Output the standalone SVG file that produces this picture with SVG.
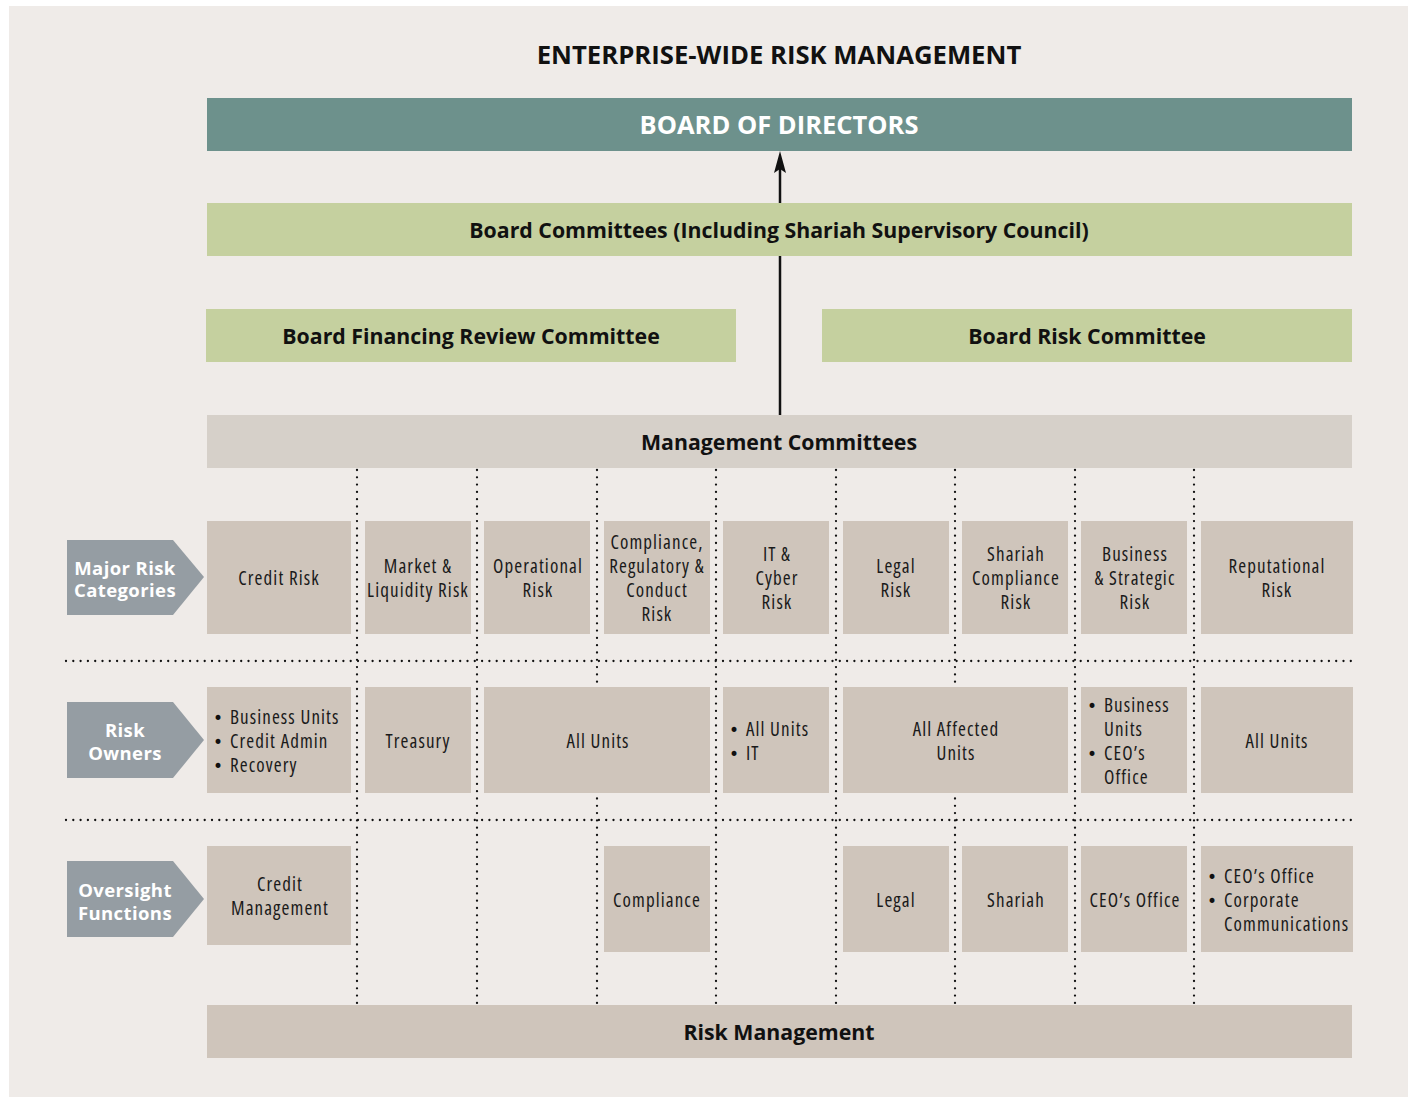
<svg xmlns="http://www.w3.org/2000/svg" width="1415" height="1097" viewBox="0 0 1415 1097">
<style>
.b{font-family:"Open Sans","Liberation Sans",sans-serif;font-weight:700;fill:#111;text-anchor:middle}
.w{fill:#fff}
.g{font-size:18.5px;letter-spacing:0.4px}
.t{font-family:"Open Sans","Liberation Sans",sans-serif;font-weight:400;font-stretch:condensed;font-size:19px;letter-spacing:1.1px;fill:#1a1a1a;text-anchor:middle}
.bu{font-family:"DejaVu Sans",sans-serif;font-size:17px;fill:#111;text-anchor:start}
.l{text-anchor:start}
.box{fill:#cfc5bb}
.grn{fill:#c5d09f}
.tag{fill:#959da3}
.dot{stroke:#111;stroke-width:2.3;stroke-linecap:round;stroke-dasharray:0 7.3;fill:none}
</style>
<rect x="0" y="0" width="1415" height="1097" fill="#fff"/>
<rect x="9" y="6" width="1399" height="1091" fill="#efebe8"/>
<text x="779" y="64" class="b" font-size="25.7">ENTERPRISE-WIDE RISK MANAGEMENT</text>

<g id="connectors">
<line x1="780" y1="415" x2="780" y2="160" stroke="#111" stroke-width="2.5"/>
<path d="M780,151 L774,173 L780,169 L786,173 Z" fill="#111"/>
<g class="dot">
<line x1="357" y1="470" x2="357" y2="1004"/>
<line x1="477" y1="470" x2="477" y2="1004"/>
<line x1="597" y1="470" x2="597" y2="1004"/>
<line x1="716" y1="470" x2="716" y2="1004"/>
<line x1="836" y1="470" x2="836" y2="1004"/>
<line x1="955" y1="470" x2="955" y2="1004"/>
<line x1="1075" y1="470" x2="1075" y2="1004"/>
<line x1="1194" y1="470" x2="1194" y2="1004"/>
<line x1="66" y1="661" x2="1352" y2="661"/>
<line x1="66" y1="820" x2="1352" y2="820"/>
</g>
</g>

<g id="board"><rect x="207" y="98" width="1145" height="53" fill="#6d918c"/><text x="779" y="134" class="b w" font-size="25.5">BOARD OF DIRECTORS</text></g>
<g id="board-committees"><rect x="207" y="203" width="1145" height="53" class="grn"/><text x="779" y="238" class="b" font-size="21.3">Board Committees (Including Shariah Supervisory Council)</text></g>
<g id="bfrc"><rect x="206" y="309" width="530" height="53" class="grn"/><text x="471" y="344" class="b" font-size="21.3">Board Financing Review Committee</text></g>
<g id="brc"><rect x="822" y="309" width="530" height="53" class="grn"/><text x="1087" y="344" class="b" font-size="21.3">Board Risk Committee</text></g>
<g id="mgmt"><rect x="207" y="415" width="1145" height="53" fill="#d6d0c9"/><text x="779" y="450" class="b" font-size="21.3">Management Committees</text></g>
<g id="riskmgmt"><rect x="207" y="1005" width="1145" height="53" class="box"/><text x="779" y="1040" class="b" font-size="21.3">Risk Management</text></g>

<g id="tag-major"><path d="M67,540 H173 L204,577 L173,615 H67 Z" class="tag"/><text x="125" y="574.5" class="b w g">Major Risk</text><text x="125" y="597" class="b w g">Categories</text></g>
<g id="tag-owners"><path d="M67,702 H173 L204,740 L173,778 H67 Z" class="tag"/><text x="125" y="737" class="b w g">Risk</text><text x="125" y="759.5" class="b w g">Owners</text></g>
<g id="tag-oversight"><path d="M67,861 H173 L204,899 L173,937 H67 Z" class="tag"/><text x="125" y="897" class="b w g">Oversight</text><text x="125" y="919.5" class="b w g">Functions</text></g>

<g id="r1-credit"><rect x="207" y="521" width="144" height="113" class="box"/><text x="279" y="585" class="t">Credit Risk</text></g>
<g id="r1-market"><rect x="365" y="521" width="106" height="113" class="box"/><text x="418" y="573" class="t">Market &amp;</text><text x="418" y="597" class="t">Liquidity Risk</text></g>
<g id="r1-oper"><rect x="484" y="521" width="106" height="113" class="box"/><text x="538" y="573" class="t">Operational</text><text x="538" y="597" class="t">Risk</text></g>
<g id="r1-comp"><rect x="604" y="521" width="106" height="113" class="box"/><text x="657" y="549" class="t">Compliance,</text><text x="657" y="573" class="t">Regulatory &amp;</text><text x="657" y="597" class="t">Conduct</text><text x="657" y="621" class="t">Risk</text></g>
<g id="r1-it"><rect x="723" y="521" width="106" height="113" class="box"/><text x="777" y="561" class="t">IT &amp;</text><text x="777" y="585" class="t">Cyber</text><text x="777" y="609" class="t">Risk</text></g>
<g id="r1-legal"><rect x="843" y="521" width="106" height="113" class="box"/><text x="896" y="573" class="t">Legal</text><text x="896" y="597" class="t">Risk</text></g>
<g id="r1-shariah"><rect x="962" y="521" width="106" height="113" class="box"/><text x="1016" y="561" class="t">Shariah</text><text x="1016" y="585" class="t">Compliance</text><text x="1016" y="609" class="t">Risk</text></g>
<g id="r1-business"><rect x="1081" y="521" width="106" height="113" class="box"/><text x="1135" y="561" class="t">Business</text><text x="1135" y="585" class="t">&amp; Strategic</text><text x="1135" y="609" class="t">Risk</text></g>
<g id="r1-rep"><rect x="1201" y="521" width="152" height="113" class="box"/><text x="1277" y="573" class="t">Reputational</text><text x="1277" y="597" class="t">Risk</text></g>

<g id="r2-credit"><rect x="207" y="687" width="144" height="106" class="box"/><text x="213" y="724" class="bu">•</text><text x="230" y="724" class="t l">Business Units</text><text x="213" y="748" class="bu">•</text><text x="230" y="748" class="t l">Credit Admin</text><text x="213" y="772" class="bu">•</text><text x="230" y="772" class="t l">Recovery</text></g>
<g id="r2-treasury"><rect x="365" y="687" width="106" height="106" class="box"/><text x="418" y="748" class="t">Treasury</text></g>
<g id="r2-all"><rect x="484" y="687" width="226" height="106" class="box"/><text x="598" y="748" class="t">All Units</text></g>
<g id="r2-it"><rect x="723" y="687" width="106" height="106" class="box"/><text x="729" y="736" class="bu">•</text><text x="746" y="736" class="t l">All Units</text><text x="729" y="760" class="bu">•</text><text x="746" y="760" class="t l">IT</text></g>
<g id="r2-affected"><rect x="843" y="687" width="225" height="106" class="box"/><text x="956" y="736" class="t">All Affected</text><text x="956" y="760" class="t">Units</text></g>
<g id="r2-business"><rect x="1081" y="687" width="106" height="106" class="box"/><text x="1087" y="712" class="bu">•</text><text x="1104" y="712" class="t l">Business</text><text x="1104" y="736" class="t l">Units</text><text x="1087" y="760" class="bu">•</text><text x="1104" y="760" class="t l">CEO’s</text><text x="1104" y="784" class="t l">Office</text></g>
<g id="r2-allunits"><rect x="1201" y="687" width="152" height="106" class="box"/><text x="1277" y="748" class="t">All Units</text></g>

<g id="r3-credit"><rect x="207" y="846" width="144" height="99" class="box"/><text x="280" y="891" class="t">Credit</text><text x="280" y="915" class="t">Management</text></g>
<g id="r3-comp"><rect x="604" y="846" width="106" height="106" class="box"/><text x="657" y="907" class="t">Compliance</text></g>
<g id="r3-legal"><rect x="843" y="846" width="106" height="106" class="box"/><text x="896" y="907" class="t">Legal</text></g>
<g id="r3-shariah"><rect x="962" y="846" width="106" height="106" class="box"/><text x="1016" y="907" class="t">Shariah</text></g>
<g id="r3-ceo"><rect x="1081" y="846" width="106" height="106" class="box"/><text x="1135" y="907" class="t">CEO’s Office</text></g>
<g id="r3-rep"><rect x="1201" y="846" width="152" height="106" class="box"/><text x="1207" y="883" class="bu">•</text><text x="1224" y="883" class="t l">CEO’s Office</text><text x="1207" y="907" class="bu">•</text><text x="1224" y="907" class="t l">Corporate</text><text x="1224" y="931" class="t l">Communications</text></g>
</svg>
